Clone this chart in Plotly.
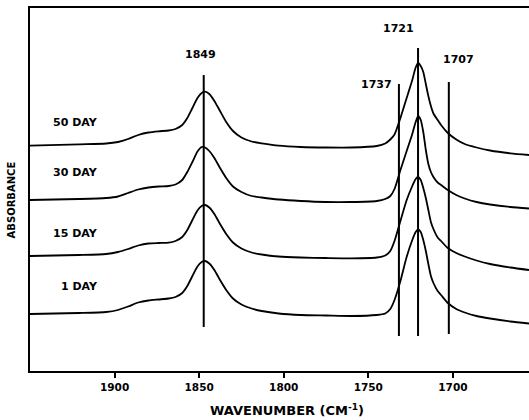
import plotly.graph_objects as go

# Wavenumber grid (cm^-1)
wavenumber = [1950, 1921, 1905, 1898, 1892, 1886, 1880, 1874, 1868, 1864, 1860, 1857, 1854,
              1851, 1848.5, 1846.5, 1844, 1841, 1838, 1834, 1830, 1825, 1819, 1813, 1803,
              1790, 1775, 1760, 1745, 1740, 1737, 1734.5, 1731, 1727.5, 1724, 1722, 1720.5,
              1719, 1717.5, 1716, 1714.5, 1713, 1711.5, 1709, 1707, 1703, 1698, 1693, 1686,
              1678, 1666, 1655]

# Absorbance (arbitrary units, stacked spectra)
day50 = [225.3, 226.7, 227.5, 229, 232, 236, 238.5, 239.7, 240.5, 242, 246, 253, 263,
         273, 278, 279.3, 277, 270, 261, 249, 240, 233.5, 229.5, 227.7, 225.3,
         224, 223.5, 223.5, 225, 227.5, 231.5, 236.5, 253, 272, 291, 303.5, 308,
         305, 299, 287, 275, 265, 257.5, 251, 246, 238, 231.5, 227, 223.5,
         220.5, 217.7, 216]
day30 = [171, 172, 173, 174.5, 178, 181.5, 183.5, 184.5, 185, 186.5, 191, 199, 209,
         219.5, 224, 223.5, 220, 213, 204, 193, 184.5, 179, 175, 173.5, 171.5,
         170, 169, 169, 170, 172, 175, 182, 201, 219, 237, 249, 255,
         251, 239, 221, 207, 199, 194, 188.5, 186, 181, 176, 172.5, 169,
         166.5, 164, 162.5]
day15 = [115, 116, 117, 119, 122, 125.5, 127.5, 128, 128.3, 130, 134, 141, 151,
         160.5, 165, 166, 163.5, 157, 148, 137, 128.5, 122.5, 118.5, 116.5, 114.5,
         113.5, 113, 112.7, 113.5, 115.5, 120, 130, 150, 170, 185, 192, 194,
         191, 183, 173, 161, 149, 142, 133.5, 130, 123, 118, 114.5, 110.5,
         107, 103.5, 101]
day1 = [57, 58, 59, 61, 64.5, 68.5, 70.5, 71.5, 72.5, 74, 78, 85, 95,
        104.5, 109, 110, 107.5, 101, 92, 81, 72.5, 66.5, 62.5, 60, 57.5,
        56, 55.5, 55, 56, 57.5, 62, 71, 90, 113, 131, 139, 141.5,
        139, 131, 120, 107, 95, 88, 80, 76, 68, 62, 58.5, 55,
        52.5, 49.5, 47.5]

series_names = ["50 DAY", "30 DAY", "15 DAY", "1 DAY"]
series_values = [day50, day30, day15, day1]
series_label_x = [1937.8, 1937.8, 1937.8, 1933]
series_label_y = [249, 199, 138, 85]

# Peak marker lines
peak_labels = ["1849", "1737", "1721", "1707"]
peak_line_x = [1847.3, 1731.9, 1720.6, 1702.4]
peak_line_bottom = [44, 35, 35, 37]
peak_line_top = [296, 287, 323, 289]
peak_label_x = [1849.3, 1745.1, 1732.2, 1696.8]
peak_label_y = [317, 287, 343, 312]

x_ticks = [1900, 1850, 1800, 1750, 1700]

fig = go.Figure()

for name, vals in zip(series_names, series_values):
    fig.add_trace(go.Scatter(x=wavenumber, y=vals, mode="lines", name=name,
                             line=dict(color="black", width=1.8, shape="spline", smoothing=0.6),
                             showlegend=False, hoverinfo="skip"))

for px, yb, yt in zip(peak_line_x, peak_line_bottom, peak_line_top):
    fig.add_trace(go.Scatter(x=[px, px], y=[yb, yt], mode="lines",
                             line=dict(color="black", width=2),
                             showlegend=False, hoverinfo="skip"))

bold = dict(family="DejaVu Sans", size=11, color="black", weight="bold")

for name, lx, ly in zip(series_names, series_label_x, series_label_y):
    fig.add_annotation(x=lx, y=ly, text=name, showarrow=False, xanchor="left",
                       yanchor="middle", font=bold)

for lab, lx, ly in zip(peak_labels, peak_label_x, peak_label_y):
    fig.add_annotation(x=lx, y=ly, text=lab, showarrow=False, xanchor="center",
                       yanchor="middle", font=bold)

fig.add_annotation(xref="paper", yref="paper", x=0.515, y=-0.107,
                   text="WAVENUMBER (CM<sup>-1</sup>)", showarrow=False,
                   xanchor="center", yanchor="middle",
                   font=dict(family="DejaVu Sans", size=13, color="black", weight="bold"))
fig.add_annotation(xref="paper", yref="paper", x=-0.038, y=0.47,
                   text="ABSORBANCE", showarrow=False, textangle=-90,
                   xanchor="center", yanchor="middle",
                   font=dict(family="DejaVu Sans", size=10, color="black", weight="bold"))

fig.update_layout(
    width=529, height=420,
    margin=dict(l=30, r=0, t=8, b=49),
    paper_bgcolor="white", plot_bgcolor="white",
    xaxis=dict(range=[1950, 1655], showline=True, linecolor="black", linewidth=2,
               mirror=True, showgrid=False, zeroline=False, ticks="outside",
               ticklen=5, tickwidth=2, tickcolor="black", tickvals=x_ticks,
               tickfont=dict(family="DejaVu Sans", size=10.5, color="black", weight="bold")),
    yaxis=dict(range=[0, 363], showline=True, linecolor="black", linewidth=2,
               showgrid=False, zeroline=False, showticklabels=False, ticks=""),
)

fig.write_html("out.html")
